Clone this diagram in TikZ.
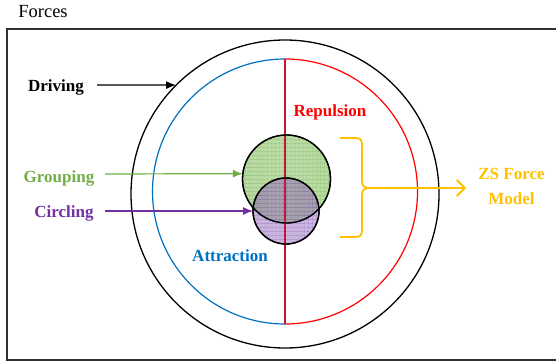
\documentclass[tikz,border=0pt]{standalone}
\usepackage{fontspec}
\setmainfont{Liberation Serif}[BoldFont={Liberation Serif Bold}]
\newfontfamily\lserifbold{Liberation Serif Bold}
\usetikzlibrary{arrows.meta,patterns.meta}
\definecolor{cgreen}{HTML}{70AD47}
\definecolor{cpurple}{HTML}{7030A0}
\definecolor{cblue}{HTML}{0070C0}
\definecolor{cred}{HTML}{FF0000}
\definecolor{corange}{HTML}{FFC000}
\definecolor{gfill}{HTML}{B9D9A3}
\definecolor{gline}{HTML}{8FC06F}
\definecolor{pfill}{HTML}{8A5CB8}
\definecolor{pline}{HTML}{6A3C98}
\definecolor{vline}{HTML}{C8143C}
\definecolor{frame}{HTML}{303030}
\begin{document}
\begin{tikzpicture}[x=1pt,y=-1pt,
  lbl/.style={font=\lserifbold\fontsize{17}{25}\selectfont, inner sep=0pt, anchor=base},
  ring/.style={circle, draw, line width=1.3pt, inner sep=0pt, outer sep=0pt},
  tip/.style={-{Latex[length=10pt,width=8pt]}, line width=1.2pt}]
\useasboundingbox (0,0) rectangle (556,362);
% frame
\draw[frame, line width=1.8pt] (560,29) -- (7,29) -- (7,360) -- (560,360);
\node[font=\fontsize{18.5}{22}\selectfont, inner sep=0pt, anchor=base] (forces) at (43,17) {Forces};
% outer driving circle
\node[ring, minimum size=308pt] (outer) at (285,194) {};
% attraction / repulsion halves
\draw[cblue, line width=1.2pt] (285,59) arc[start angle=-90, end angle=-270, radius=132.5];
\draw[cred, line width=1.2pt] (285,59) arc[start angle=-90, end angle=90, radius=132.5];
\draw[vline, line width=1.4pt] (285,59) -- (285,324);
% grouping and circling circles
\node[ring, minimum size=88pt, fill=gfill,
  postaction={pattern={Lines[distance=4pt,angle=0,line width=0.5pt]}, pattern color=gline},
  postaction={pattern={Lines[distance=4pt,angle=90,line width=0.5pt]}, pattern color=gline}] (grp) at (286.5,179) {};
\draw[vline, line width=1.4pt] (285,135) -- (285,223);
\node[ring, minimum size=66pt, fill=pfill, fill opacity=0.45,
  postaction={pattern={Lines[distance=4pt,angle=0,line width=0.5pt]}, pattern color=pline, fill opacity=0.4},
  postaction={pattern={Lines[distance=4pt,angle=90,line width=0.5pt]}, pattern color=pline, fill opacity=0.4}] (circ) at (286,211) {};
\draw[vline, line width=1.4pt] (285,178) -- (285,244);
\draw[line width=1.3pt] (grp) circle[radius=44pt];
\draw[line width=1.3pt] (circ) circle[radius=33pt];
% labels
\node[lbl] (driving) at (56,91) {Driving};
\node[lbl, text=cgreen] (grouping) at (59,182) {Grouping};
\node[lbl, text=cpurple] (circling) at (64,217.5) {Circling};
\node[lbl, text=cred] (repulsion) at (330,116) {Repulsion};
\node[lbl, text=cblue] (attraction) at (230,261.5) {Attraction};
\node[lbl, text=corange, align=center, anchor=north] (zs) at (511.5,168) {ZS Force\\Model};
% arrows
\coordinate (ds) at (97,85);
\coordinate (gs) at (105,174);
\coordinate (cs) at (105,211);
\draw[tip] (ds) -- (outer.135);
\draw[tip, cgreen] (gs) -- (grp.173.5);
\draw[tip, cpurple] (cs) -- (circ.180);
% brace
\draw[corange, line width=1.8pt] (340,138) -- (355,138) .. controls (361,138) and (362,140) .. (362,146) -- (362,181) .. controls (362,186) and (364,188) .. (370,188);
\draw[corange, line width=1.8pt] (340,237) -- (355,237) .. controls (361,237) and (362,235) .. (362,229) -- (362,195) .. controls (362,190) and (364,188) .. (370,188);
\coordinate (bs) at (365,188);
\coordinate (be) at (466,188);
\draw[corange, line width=1.8pt, -{Straight Barb[length=8pt,width=16pt]}] (bs) -- (be);
\end{tikzpicture}
\end{document}
